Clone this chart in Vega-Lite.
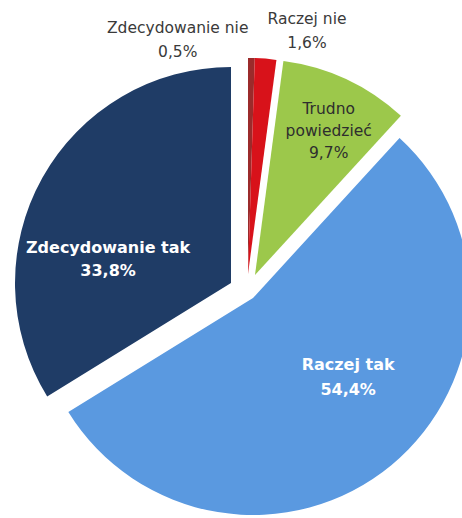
{
  "$schema": "https://vega.github.io/schema/vega-lite/v6.json",
  "width": 462,
  "height": 518,
  "autosize": "none",
  "padding": 0,
  "background": "white",
  "config": {"view": {"stroke": null}},
  "data": {
    "values": [
      {"cat": "Zdecydowanie nie", "value": 0.5, "order": 1, "label": "Zdecydowanie nie\n0,5%"},
      {"cat": "Raczej nie", "value": 1.6, "order": 2, "label": "Raczej nie\n1,6%"},
      {"cat": "Trudno powiedzieć", "value": 9.7, "order": 3, "label": "Trudno\npowiedzieć\n9,7%"},
      {"cat": "Raczej tak", "value": 54.4, "order": 4, "label": "Raczej tak\n54,4%"},
      {"cat": "Zdecydowanie tak", "value": 33.8, "order": 5, "label": "Zdecydowanie tak\n33,8%"}
    ]
  },
  "encoding": {
    "theta": {"field": "value", "type": "quantitative", "stack": true},
    "order": {"field": "order", "type": "quantitative"}
  },
  "layer": [
    {
      "mark": {"type": "arc", "outerRadius": 216, "xOffset": 17, "yOffset": 15},
      "encoding": {
        "color": {"field": "cat", "type": "nominal", "legend": null,
          "scale": {"domain": ["Zdecydowanie nie", "Raczej nie", "Trudno powiedzieć", "Raczej tak", "Zdecydowanie tak"],
                    "range": ["#9B2B2B", "#D8121A", "#9CC84B", "#5A99E0", "#1F3C66"]}},
        "opacity": {"condition": {"test": "datum.cat === 'Zdecydowanie nie' || datum.cat === 'Raczej nie'", "value": 1}, "value": 0}
      }
    },
    {
      "mark": {"type": "arc", "outerRadius": 216, "xOffset": 24, "yOffset": 16},
      "encoding": {
        "color": {"field": "cat", "type": "nominal", "legend": null},
        "opacity": {"condition": {"test": "datum.cat === 'Trudno powiedzieć'", "value": 1}, "value": 0}
      }
    },
    {
      "mark": {"type": "arc", "outerRadius": 217, "xOffset": 22, "yOffset": 39},
      "encoding": {
        "color": {"field": "cat", "type": "nominal", "legend": null},
        "opacity": {"condition": {"test": "datum.cat === 'Raczej tak'", "value": 1}, "value": 0}
      }
    },
    {
      "mark": {"type": "arc", "outerRadius": 216, "xOffset": 0, "yOffset": 24},
      "encoding": {
        "color": {"field": "cat", "type": "nominal", "legend": null},
        "opacity": {"condition": {"test": "datum.cat === 'Zdecydowanie tak'", "value": 1}, "value": 0}
      }
    },
    {
      "mark": {"type": "text", "radius": 237, "dx": -57, "dy": 6, "font": "DejaVu Sans", "fontSize": 15.5, "lineBreak": "\n", "lineHeight": 24, "baseline": "middle", "align": "center", "fill": "#3a3a3a"},
      "encoding": {"text": {"condition": {"test": "datum.cat === 'Zdecydowanie nie'", "field": "label"}, "value": ""}}
    },
    {
      "mark": {"type": "text", "radius": 245, "dx": 56, "dy": 4, "font": "DejaVu Sans", "fontSize": 15.5, "lineBreak": "\n", "lineHeight": 24, "baseline": "middle", "align": "center", "fill": "#3a3a3a"},
      "encoding": {"text": {"condition": {"test": "datum.cat === 'Raczej nie'", "field": "label"}, "value": ""}}
    },
    {
      "mark": {"type": "text", "radius": 160, "dx": 30, "dy": -5, "font": "DejaVu Sans", "fontSize": 15.5, "lineBreak": "\n", "lineHeight": 22, "baseline": "middle", "align": "center", "fill": "#2e2e2e"},
      "encoding": {"text": {"condition": {"test": "datum.cat === 'Trudno powiedzieć'", "field": "label"}, "value": ""}}
    },
    {
      "mark": {"type": "text", "radius": 121, "dx": 40, "dy": 13, "font": "DejaVu Sans", "fontSize": 16, "fontWeight": "bold", "lineBreak": "\n", "lineHeight": 25, "baseline": "middle", "align": "center", "fill": "white"},
      "encoding": {"text": {"condition": {"test": "datum.cat === 'Raczej tak'", "field": "label"}, "value": ""}}
    },
    {
      "mark": {"type": "text", "radius": 119, "dx": -19, "dy": 47, "font": "DejaVu Sans", "fontSize": 16, "fontWeight": "bold", "lineBreak": "\n", "lineHeight": 23, "baseline": "middle", "align": "center", "fill": "white"},
      "encoding": {"text": {"condition": {"test": "datum.cat === 'Zdecydowanie tak'", "field": "label"}, "value": ""}}
    }
  ]
}
